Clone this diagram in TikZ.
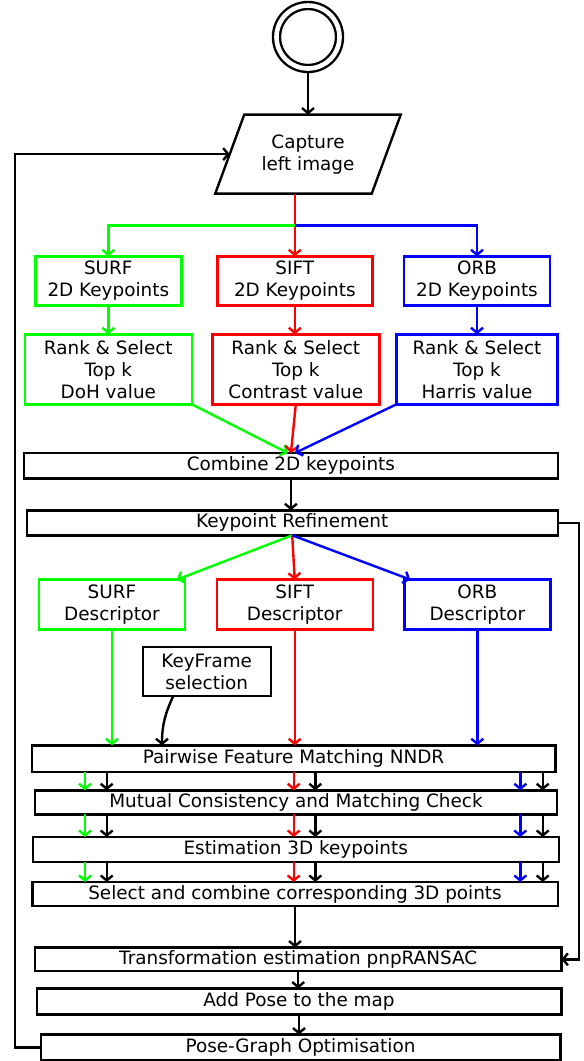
\documentclass[tikz,border=0pt]{standalone}
\usepackage{fontspec}
\setmainfont{DejaVu Sans}
\usetikzlibrary{positioning, arrows.meta}

\begin{document}
\begin{tikzpicture}[x=1pt, y=1pt]
  % Define styles for nodes
  \tikzset{
    every node/.style={font=\fontsize{18.4}{22}\selectfont},
    startnode/.style={circle, draw, double, double distance=4.6pt, line width=2.4pt, minimum size=63pt, inner sep=0pt, outer sep=4.7pt},
    iobox/.style={rectangle, minimum width=156.5pt, minimum height=79pt, align=center, outer sep=0pt},
    algobox/.style={rectangle, draw, line width=2.4pt, minimum width=146pt, minimum height=49pt, inner sep=2pt, align=center, outer sep=0pt},
    rankbox/.style={algobox, minimum width=167pt, minimum height=70pt},
    bar/.style={rectangle, draw, line width=2.4pt, minimum height=25pt, inner sep=1pt, outer sep=0pt},
    arr/.style={line width=2.4pt, -{Straight Barb[length=5pt, width=12pt]}}
  }
  \useasboundingbox (0,0) rectangle (584,-1061);

  % Start and image capture
  \node[startnode] (start) at (308,-37) {};
  \node[iobox, below=41.4pt of start] (capture) {Capture\\left image};
  \draw[line width=2.4pt] ([xshift=-14.5pt]capture.south west) -- ([xshift=-14.5pt]capture.south east)
    -- ([xshift=14.5pt]capture.north east) -- ([xshift=14.5pt]capture.north west) -- cycle;

  % Keypoint detectors
  \node[algobox, draw=red, minimum width=155pt, below=62.7pt of capture, xshift=-13.2pt] (siftkp) {SIFT\\2D Keypoints};
  \node[algobox, draw=green, left=36pt of siftkp] (surfkp) {SURF\\2D Keypoints};
  \node[algobox, draw=blue, right=31.7pt of siftkp] (orbkp) {ORB\\2D Keypoints};

  \node[rankbox, draw=green, below=29pt of surfkp] (surfrank) {Rank \& Select\\Top k\\DoH value};
  \node[rankbox, draw=red, below=29pt of siftkp, xshift=1pt] (siftrank) {Rank \& Select\\Top k\\Contrast value};
  \node[rankbox, draw=blue, minimum width=161pt, below=29pt of orbkp] (orbrank) {Rank \& Select\\Top k\\Harris value};

  \node[bar, minimum width=533.7pt, minimum height=25.6pt, below=48.7pt of siftrank, xshift=-4.9pt] (combine) {Combine 2D keypoints};
  \node[bar, minimum width=531pt, below=31.7pt of combine, xshift=1.3pt] (refine) {Keypoint Refinement};

  % Descriptors
  \node[algobox, draw=red, minimum width=156pt, minimum height=50pt, below=44.3pt of refine, xshift=2.5pt] (siftdesc) {SIFT\\Descriptor};
  \node[algobox, draw=green, minimum height=50pt, left=31.7pt of siftdesc] (surfdesc) {SURF\\Descriptor};
  \node[algobox, draw=blue, minimum height=50pt, right=31.6pt of siftdesc] (orbdesc) {ORB\\Descriptor};
  \node[algobox, minimum width=128pt, below=17.4pt of surfdesc, xshift=94.7pt] (keyframe) {KeyFrame\\selection};

  % Matching and pose
  \node[bar, minimum width=523.6pt, minimum height=26.7pt, below=115.7pt of siftdesc, xshift=-1.2pt] (pairwise) {Pairwise Feature Matching NNDR};
  \node[bar, minimum width=522pt, minimum height=24pt, below=18.3pt of pairwise, xshift=2.5pt] (mutual) {Mutual Consistency and Matching Check};
  \node[bar, minimum width=526pt, below=22.7pt of mutual, xshift=-0.3pt] (estim) {Estimation 3D keypoints};
  \node[bar, minimum width=525.4pt, minimum height=24pt, below=20pt of estim, xshift=-0.7pt] (select) {Select and combine corresponding 3D points};
  \node[bar, minimum width=526.3pt, minimum height=23.4pt, below=41.6pt of select, xshift=3.2pt] (transf) {Transformation estimation pnpRANSAC};
  \node[bar, minimum width=524.6pt, minimum height=25.7pt, below=17.6pt of transf, xshift=0.8pt] (addpose) {Add Pose to the map};
  \node[bar, minimum width=519.6pt, minimum height=25.5pt, below=20.3pt of addpose, xshift=1.5pt] (pose) {Pose-Graph Optimisation};

  % Connectors
  \draw[arr] (start.south) -- (start.south |- capture.north);
  \coordinate (split) at ([yshift=-31.7pt]capture.south -| siftkp.north);
  \draw[arr, red] (capture.south -| siftkp.north) -- (siftkp.north);
  \draw[arr, green] (split) -| (surfkp.north);
  \draw[arr, blue] (split) -| (orbkp.north);

  \draw[arr, green] (surfkp.south) -- (surfkp.south |- surfrank.north);
  \draw[arr, red] (siftkp.south) -- (siftkp.south |- siftrank.north);
  \draw[arr, blue] (orbkp.south) -- (orbkp.south |- orbrank.north);

  \draw[arr, green] (surfrank.south east) -- ([xshift=-3pt]combine.north);
  \draw[arr, red] (siftrank.south) -- (combine.north);
  \draw[arr, blue] (orbrank.south west) -- ([xshift=4pt]combine.north);
  \draw[arr] (combine.south) -- (combine.south |- refine.north);

  \draw[arr, green] (refine.south) -- ([xshift=-8pt]surfdesc.north east);
  \draw[arr, red] (refine.south) -- (siftdesc.north);
  \draw[arr, blue] (refine.south) -- ([xshift=6pt]orbdesc.north west);

  \draw[arr, green] (surfdesc.south) -- (surfdesc.south |- pairwise.north);
  \draw[arr, red] (siftdesc.south) -- (siftdesc.south |- pairwise.north);
  \draw[arr, blue] (orbdesc.south) -- (orbdesc.south |- pairwise.north);
  \draw[arr] ([xshift=-33.4pt]keyframe.south) to[out=-115, in=90] ([xshift=-131.5pt]pairwise.north);

  \foreach \upper/\lower in {pairwise/mutual, mutual/estim, estim/select}
    \foreach \x/\col in {85/green, 106.7/black, 293.7/red, 315.3/black, 520.3/blue, 542.7/black}
      \draw[arr, \col] (\upper.south -| \x,0) -- (\lower.north -| \x,0);

  \draw[arr] (select.south) -- (select.south |- transf.north);
  \draw[arr] (transf.south) -- (transf.south |- addpose.north);
  \draw[arr] (addpose.south) -- (addpose.south |- pose.north);

  % Feedback loops
  \draw[arr] (refine.east) -- ++(21.3,0) |- (transf.east);
  \draw[arr] (pose.west) -- ++(-25.7,0) |- (capture.west);
\end{tikzpicture}
\end{document}
